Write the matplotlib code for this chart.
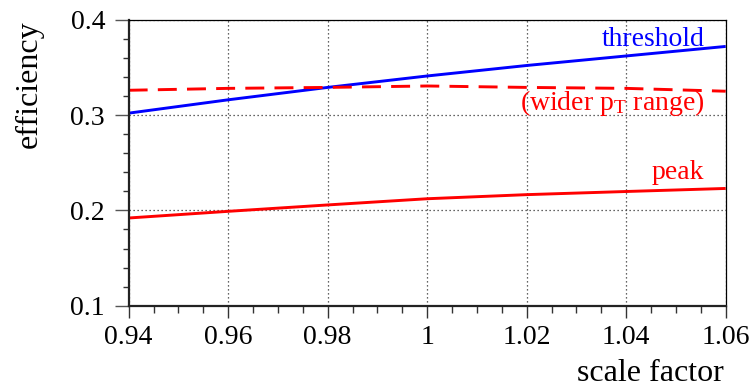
import matplotlib
matplotlib.use("Agg")
import matplotlib.pyplot as plt
from matplotlib.ticker import MultipleLocator, FixedLocator

plt.rcParams['font.family'] = ['Liberation Serif', 'DejaVu Serif']
plt.rcParams['mathtext.fontset'] = 'custom'
plt.rcParams['mathtext.rm'] = 'Liberation Serif'
plt.rcParams['mathtext.it'] = 'Liberation Serif:italic'

# scale factor values
scale = [0.94, 0.96, 0.98, 1.00, 1.02, 1.04, 1.06]
# efficiency curves
eff_threshold = [0.302, 0.316, 0.329, 0.341, 0.352, 0.362, 0.372]
eff_wide = [0.326, 0.328, 0.329, 0.3305, 0.329, 0.328, 0.325]
eff_peak = [0.192, 0.199, 0.2057, 0.2122, 0.2165, 0.2198, 0.223]

x_ticks = [0.94, 0.96, 0.98, 1.0, 1.02, 1.04, 1.06]
x_tick_labels = ["0.94", "0.96", "0.98", "1", "1.02", "1.04", "1.06"]
y_ticks = [0.1, 0.2, 0.3, 0.4]
y_tick_labels = ["0.1", "0.2", "0.3", "0.4"]

fig = plt.figure(figsize=(7.52, 3.87), dpi=100)
ax = fig.add_axes([0.1711, 0.2101, 0.965 - 0.1711, 0.949 - 0.2101])

ax.plot(scale, eff_threshold, color='#0000ff', lw=2.1, solid_capstyle='butt')
ax.plot(scale, eff_wide, color='#ff0000', lw=2.1, dashes=(6.5, 3.5))
ax.plot(scale, eff_peak, color='#ff0000', lw=2.1, solid_capstyle='butt')

ax.set_xlim(0.94, 1.06)
ax.set_ylim(0.1, 0.4)

ax.xaxis.set_major_locator(FixedLocator(x_ticks))
ax.set_xticklabels(x_tick_labels)
ax.xaxis.set_minor_locator(MultipleLocator(0.005))
ax.yaxis.set_major_locator(FixedLocator(y_ticks))
ax.set_yticklabels(y_tick_labels)
ax.yaxis.set_minor_locator(MultipleLocator(0.02))

ax.tick_params(axis='x', which='major', direction='out', length=8.6, width=1.0,
               color='#333333', labelsize=20, pad=5)
ax.tick_params(axis='x', which='minor', direction='out', length=5, width=1.0,
               color='#333333')
ax.tick_params(axis='y', which='major', direction='out', length=10, width=1.0,
               color='#555555', labelsize=20, pad=7)
ax.tick_params(axis='y', which='minor', direction='out', length=4.3, width=1.0,
               color='#333333')
ax.tick_params(top=False, right=False)

for side in ('left', 'bottom'):
    ax.spines[side].set_linewidth(1.6)
    ax.spines[side].set_color('#222222')
for side in ('top', 'right'):
    ax.spines[side].set_linewidth(0.9)
    ax.spines[side].set_color('#000000')

ax.grid(True, which='major', color='#333333', linestyle=(0, (1, 2.2)), linewidth=0.9)

ax.text(1.0557, 0.3725, "threshold", color='#0000ff', fontsize=20,
        ha='right', va='baseline')
ax.text(1.0557, 0.3055, r"(wider p$_\mathregular{T}$ range)", color='#ff0000',
        fontsize=20, ha='right', va='baseline')
ax.text(1.0557, 0.2327, "peak", color='#ff0000', fontsize=20,
        ha='right', va='baseline')

fig.text(0.963, 0.016, "scale factor", fontsize=23, ha='right', va='baseline')
fig.text(0.039, 0.948, "efficiency", fontsize=23, rotation=90,
         ha='center', va='top')

fig.savefig("out.png", dpi=100)
